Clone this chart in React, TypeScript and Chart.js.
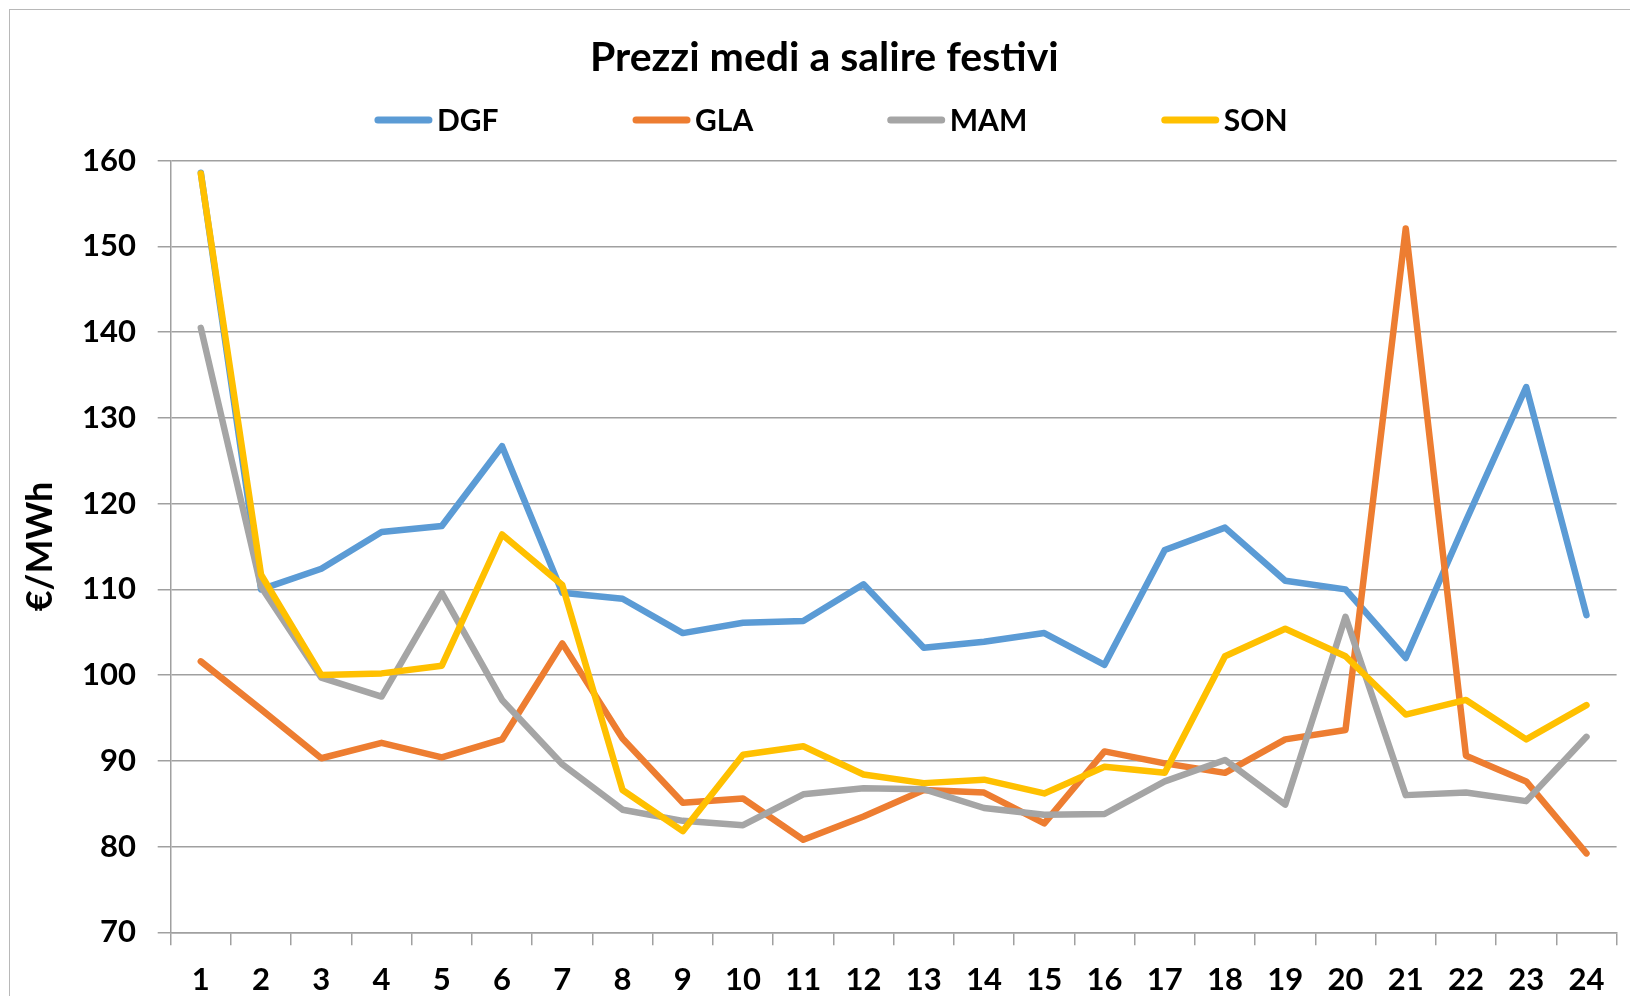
import React, { useEffect, useRef } from 'react';
import { Chart, registerables } from 'chart.js';

Chart.register(...registerables);

// ---- data ----
const hours = ['1', '2', '3', '4', '5', '6', '7', '8', '9', '10', '11', '12', '13', '14', '15', '16', '17', '18', '19', '20', '21', '22', '23', '24'];
const DGF = [158.6, 110.0, 112.4, 116.7, 117.4, 126.7, 109.6, 108.9, 104.9, 106.1, 106.3, 110.6, 103.2, 103.9, 104.9, 101.2, 114.6, 117.2, 111.0, 110.0, 102.0, 118.0, 133.6, 107.0];
const GLA = [101.6, 96.0, 90.3, 92.1, 90.4, 92.5, 103.7, 92.6, 85.1, 85.6, 80.8, 83.5, 86.6, 86.3, 82.7, 91.1, 89.7, 88.6, 92.5, 93.6, 152.1, 90.6, 87.6, 79.2];
const MAM = [140.5, 110.3, 99.7, 97.5, 109.6, 97.1, 89.6, 84.3, 83.0, 82.5, 86.1, 86.8, 86.7, 84.5, 83.7, 83.8, 87.6, 90.1, 84.9, 106.8, 86.0, 86.3, 85.3, 92.8];
const SON = [158.5, 111.7, 100.0, 100.2, 101.1, 116.4, 110.5, 86.6, 81.8, 90.7, 91.7, 88.4, 87.4, 87.8, 86.2, 89.3, 88.6, 102.2, 105.4, 102.2, 95.4, 97.1, 92.5, 96.5];
const seriesNames = ['DGF', 'GLA', 'MAM', 'SON'];
const seriesValues = [DGF, GLA, MAM, SON];
const seriesColors = ['#5B9BD5', '#ED7D31', '#A5A5A5', '#FFC000'];
const yMin = 70;
const yMax = 160;
const yStep = 10;
const chartTitle = 'Prezzi medi a salire festivi';
const yAxisTitle = '€/MWh';

// ---- style ----
const FONT = 'Lato';
const GRID = '#A0A0A0';
const W = 1630;
const H = 996;

// legend drawn like the Excel one: long line marker, tight text, wide gaps
const lineLegend = {
  id: 'lineLegend',
  afterDraw(chart: any, _args: any, opts: any) {
    const { ctx } = chart;
    const datasets = chart.data.datasets;
    ctx.save();
    ctx.font = `bold ${opts.fontSize}px ${FONT}`;
    const widths = datasets.map(
      (ds: any) => opts.lineLength + opts.textGap + ctx.measureText(ds.label).width
    );
    const total = widths.reduce((a: number, b: number) => a + b, 0) + opts.itemGap * (datasets.length - 1);
    let x = opts.centerX - total / 2;
    const y = opts.y;
    datasets.forEach((ds: any, i: number) => {
      const lw = opts.lineWidth;
      ctx.beginPath();
      ctx.strokeStyle = ds.borderColor;
      ctx.lineWidth = lw;
      ctx.lineCap = 'round';
      ctx.moveTo(x + lw / 2, y);
      ctx.lineTo(x + opts.lineLength - lw / 2, y);
      ctx.stroke();
      ctx.fillStyle = '#000';
      ctx.textBaseline = 'middle';
      ctx.textAlign = 'left';
      ctx.fillText(ds.label, x + opts.lineLength + opts.textGap, y + 1);
      x += widths[i] + opts.itemGap;
    });
    ctx.restore();
  },
};

export default function App() {
  const canvasRef = useRef<HTMLCanvasElement | null>(null);

  useEffect(() => {
    const canvas = canvasRef.current;
    if (!canvas) return;
    const chart = new Chart(canvas, {
      type: 'line',
      data: {
        labels: hours,
        datasets: seriesNames.map((name, i) => ({
          label: name,
          data: seriesValues[i],
          borderColor: seriesColors[i],
          backgroundColor: seriesColors[i],
          borderWidth: 6.5,
          borderCapStyle: 'round',
          borderJoinStyle: 'round',
          pointRadius: 0,
          pointHoverRadius: 0,
          tension: 0,
          fill: false,
          order: seriesNames.length - i,
        })),
      },
      options: {
        responsive: false,
        animation: false,
        devicePixelRatio: 1,
        layout: { padding: { left: 32, right: 13.4, top: 0, bottom: 0 } },
        plugins: {
          legend: { display: false },
          tooltip: { enabled: false },
          title: {
            display: true,
            text: chartTitle,
            color: '#000',
            font: { family: FONT, size: 41, weight: 'bold', lineHeight: 1.2 },
            padding: { top: 33.5, bottom: 78 },
          },
          lineLegend: {
            centerX: 831,
            y: 120,
            fontSize: 30,
            lineLength: 58,
            lineWidth: 7,
            textGap: 4.5,
            itemGap: 134,
          },
        } as any,
        scales: {
          x: {
            type: 'category',
            offset: true,
            grid: {
              offset: true,
              drawOnChartArea: false,
              drawTicks: true,
              tickLength: 13,
              color: GRID,
              lineWidth: 1.5,
            },
            border: { display: true, color: GRID, width: 1.5 },
            ticks: {
              color: '#000',
              font: { family: FONT, size: 31, weight: 'bold' },
              padding: 16.5,
              maxRotation: 0,
              autoSkip: false,
            },
            afterFit: (scale: any) => {
              scale.height = 63.7;
            },
          },
          y: {
            min: yMin,
            max: yMax,
            grid: {
              color: GRID,
              lineWidth: 1.5,
              drawTicks: true,
              tickLength: 13,
            },
            border: { display: true, color: GRID, width: 1.5 },
            ticks: {
              stepSize: yStep,
              color: '#000',
              font: { family: FONT, size: 31, weight: 'bold' },
              padding: 21.7,
            },
            title: {
              display: true,
              text: yAxisTitle,
              color: '#000',
              font: { family: FONT, size: 36, weight: 'bold', lineHeight: 1.2 },
              padding: { top: -12.9, bottom: 0 },
            },
            afterFit: (scale: any) => {
              scale.width = 138.7;
            },
          },
        },
      },
      plugins: [lineLegend],
    } as any);
    return () => chart.destroy();
  }, []);

  return (
    <div
      style={{
        position: 'fixed',
        left: 0,
        top: 0,
        width: W,
        height: H,
        overflow: 'hidden',
        background: '#fff',
      }}
    >
      <div
        style={{
          position: 'absolute',
          left: 9,
          top: 9,
          width: W + 100,
          height: H + 100,
          border: '1.5px solid #B8B8B8',
          boxSizing: 'border-box',
        }}
      />
      <canvas
        ref={canvasRef}
        width={W}
        height={H}
        style={{ position: 'absolute', left: 0, top: 0 }}
      />
    </div>
  );
}
